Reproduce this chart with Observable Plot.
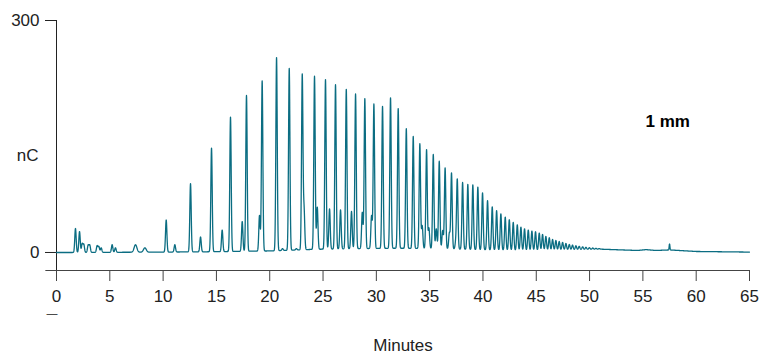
<!DOCTYPE html>
<html>
<head>
<meta charset="utf-8">
<script src="https://cdn.jsdelivr.net/npm/d3@7"></script>
<script src="https://cdn.jsdelivr.net/npm/@observablehq/plot@0.6"></script>
<style>
  html, body { margin: 0; padding: 0; background: #fff; }
  #chart { width: 761px; height: 358px; }
</style>
</head>
<body>
<div id="chart"></div>
<script>
// Peak apex retention times (min) and apex heights (nC)
const peakTimes = [
  1.78, 2.16, 2.41, 2.56, 2.97, 3.12, 3.81, 3.97, 4.19, 5.22, 5.53, 7.41, 8.29,
  10.29, 11.10, 12.57, 13.51, 14.54, 15.54, 16.32, 17.42, 17.82, 19.04, 19.29,
  20.64, 21.2, 21.83, 22.5, 23.05, 23.22, 24.2, 24.46, 25.23, 25.61, 26.17, 26.64,
  27.18, 27.67, 28.05, 28.68, 28.92, 29.55, 29.77, 30.58, 31.33, 32.05, 32.81,
  33.46, 34.08, 34.3, 34.71, 34.93, 35.34, 35.62, 35.90, 36.22, 36.45, 36.85,
  37.05, 37.45, 37.59, 38.09, 38.58, 39.05, 39.52, 39.96, 40.43, 40.87, 41.28,
  41.68, 42.09, 42.47, 42.84, 43.22, 43.56, 43.90, 44.25, 44.59, 44.93, 45.28,
  45.59, 45.90, 46.22, 46.53, 46.84, 47.15, 47.47, 47.78, 48.10, 48.40, 48.72,
  49.03, 49.35, 49.66, 49.98, 50.30, 50.60, 50.90, 57.5
];
const peakHeights = [
  31, 27, 12, 11, 10, 10, 9, 8, 6, 10, 6, 10, 6,
  42, 10, 89, 20, 135, 29, 175, 40, 203, 48, 222,
  252, 5, 238, 5, 231, 62, 228, 58.6, 223.5, 56.5, 217, 55.2,
  211, 53, 205, 52, 199, 48, 192, 189, 200, 186, 160,
  150, 140.6, 35, 133, 32, 126.7, 30.6, 118, 28.5, 109.5, 26,
  103, 22, 95.3, 90.5, 88, 87.5, 84.4, 77, 67, 59, 54,
  50, 45.7, 42.3, 38.8, 35.8, 32.8, 30.6, 29, 27.6, 26.8, 25,
  23.3, 20.7, 19, 16.8, 15.5, 14.2, 13, 11.6, 10.3, 9.5, 8.7,
  8, 7.3, 6.7, 6.2, 5.8, 5.4, 5.1, 11
];
// Baseline level under the peaks (nC), read from the valleys
const baseTimes  = [0, 1.7, 10, 15, 20, 24, 28, 32, 36, 40, 44, 48, 51, 54.5, 55.3, 56.2, 57.5, 60, 65];
const baseLevels = [0, 0, 0.5, 1, 2, 4, 5, 5.5, 5, 3.5, 2.5, 3.5, 4.3, 2.6, 3.7, 2.6, 3.3, 1.3, 0.5];

const xTicks = [0, 5, 10, 15, 20, 25, 30, 35, 40, 45, 50, 55, 60, 65];
const yTicks = [0, 300];
const yLow = -23.3;

// ---- build the trace from the peak table ----
const baseAt = d3.scaleLinear(baseTimes, baseLevels).clamp(true);
const sig = peakTimes.map(t => (t > 7 && t < 9) ? 0.13 : (t > 57 && t < 58) ? 0.035 : 0.065);
const g = (dt, s) => Math.exp(-(dt * dt) / (2 * s * s));
let amp = peakHeights.map((h, i) => Math.max(0, h - baseAt(peakTimes[i])));
for (let it = 0; it < 4; it++) {
  amp = peakHeights.map((h, i) => {
    let o = 0;
    for (let j = 0; j < peakTimes.length; j++) {
      if (j !== i) o += amp[j] * g(peakTimes[i] - peakTimes[j], sig[j]);
    }
    return Math.max(0, h - baseAt(peakTimes[i]) - o);
  });
}
const grid = Array.from(new Set(d3.range(0, 6501).map(k => k / 100).concat(peakTimes))).sort((a, b) => a - b);
const trace = grid.map(t => {
  let v = baseAt(t);
  for (let j = 0; j < peakTimes.length; j++) {
    const dt = t - peakTimes[j];
    if (Math.abs(dt) < 6 * sig[j]) v += amp[j] * g(dt, sig[j]);
  }
  return {t, v};
});

const ink = "#222";
const chart = Plot.plot({
  width: 761,
  height: 358,
  marginLeft: 56,
  marginRight: 12,
  marginTop: 20,
  marginBottom: 88,
  style: {fontFamily: "'Liberation Sans', Arial, sans-serif", fontSize: "17px", color: ink, background: "#fff"},
  x: {domain: [0, 65], label: null},
  y: {domain: [yLow, 300], label: null},
  marks: [
    Plot.axisX({ticks: xTicks, tickSize: 11, tickPadding: 8, tickFormat: d => String(d), stroke: "#444", label: null, fontSize: 17}),
    Plot.axisY({ticks: yTicks, tickSize: 11, tickPadding: 6, tickFormat: d => String(d), stroke: ink, label: null, fontSize: 17}),
    Plot.ruleX([0], {y1: yLow, y2: 300, stroke: ink, strokeWidth: 1}),
    Plot.ruleY([yLow], {x1: -1, x2: 65, stroke: "#444", strokeWidth: 1.2}),
    Plot.line(trace, {x: "t", y: "v", stroke: "#0b6d82", strokeWidth: 1.3, curve: "linear"}),
    Plot.text(["nC"], {frameAnchor: "left", y: [125], dx: -18, textAnchor: "end", fontSize: 17, fill: ink}),
    Plot.text(["1 mm"], {x: [55.25], y: [169], textAnchor: "start", fontSize: 17, fontWeight: "bold", fill: "#000"}),
    Plot.text(["—"], {x: [0], frameAnchor: "bottom", dy: 46, dx: 1, textAnchor: "end", fontSize: 11, fill: ink}),
    Plot.text(["Minutes"], {frameAnchor: "bottom", dy: 80, fontSize: 17, fill: ink})
  ]
});
document.getElementById("chart").appendChild(chart);
</script>
</body>
</html>
